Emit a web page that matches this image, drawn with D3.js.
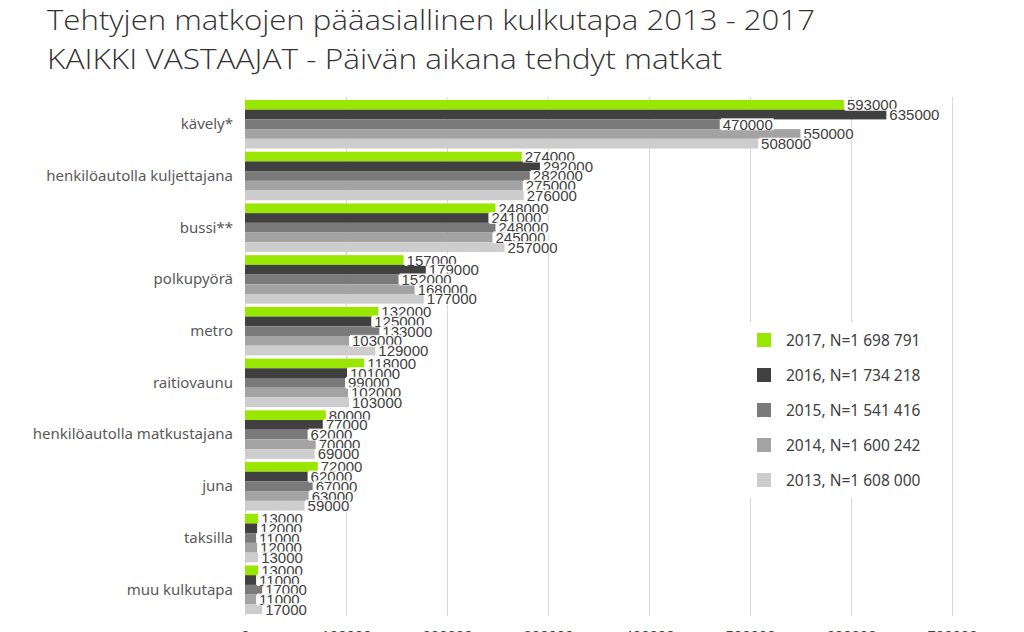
<!DOCTYPE html>
<html>
<head>
<meta charset="utf-8">
<script src="https://cdn.jsdelivr.net/npm/d3@7"></script>
<style>
  body { margin: 0; background: #fff; }
  svg { display: block; }
</style>
</head>
<body>
<svg id="chart" width="1024" height="632"></svg>
<script>
// categories (top to bottom)
const categories = ['kävely*', 'henkilöautolla kuljettajana', 'bussi**', 'polkupyörä', 'metro',
  'raitiovaunu', 'henkilöautolla matkustajana', 'juna', 'taksilla', 'muu kulkutapa']

// series in drawing order inside each group
const years = ['2017', '2016', '2015', '2014', '2013']
const legendLabels = ['2017, N=1 698 791', '2016, N=1 734 218', '2015, N=1 541 416',
  '2014, N=1 600 242', '2013, N=1 608 000']
const seriesColors = ['#99E600', '#404040', '#7A7A7A', '#A3A3A3', '#CDCDCD']

const v2017 = [593000, 274000, 248000, 157000, 132000, 118000, 80000, 72000, 13000, 13000]
const v2016 = [635000, 292000, 241000, 179000, 125000, 101000, 77000, 62000, 12000, 11000]
const v2015 = [470000, 282000, 248000, 152000, 133000, 99000, 62000, 67000, 11000, 17000]
const v2014 = [550000, 275000, 245000, 168000, 103000, 102000, 70000, 63000, 12000, 11000]
const v2013 = [508000, 276000, 257000, 177000, 129000, 103000, 69000, 59000, 13000, 17000]
const seriesValues = [v2017, v2016, v2015, v2014, v2013]

const xTicks = [0, 100000, 200000, 300000, 400000, 500000, 600000, 700000]

const titleLines = ['Tehtyjen matkojen pääasiallinen kulkutapa 2013 - 2017',
  'KAIKKI VASTAAJAT - Päivän aikana tehdyt matkat']

const svg = d3.select('#chart')
const textColor = '#404040'

// Titles
svg.selectAll('text.title')
  .data(titleLines)
  .enter()
  .append('text')
  .attr('class', 'title')
  .attr('x', 47)
  .attr('y', (d, i) => 30 + i * 39)
  .attr('textLength', (d, i) => (i === 0 ? 768 : 675))
  .attr('lengthAdjust', 'spacingAndGlyphs')
  .style('font-family', '"Open Sans", sans-serif')
  .style('font-weight', 300)
  .style('font-size', '28px')
  .style('fill', '#333')
  .text((d) => d)

// Scales
const x = d3.scaleLinear().domain([0, 700000]).range([245, 952])
const y = d3.scaleBand().domain(categories).range([98.4, 615.6])
  .paddingInner(0.062).paddingOuter(0.031)
const ySub = d3.scaleBand().domain(years).range([0, y.bandwidth()])

// Gridlines
svg.append('g')
  .selectAll('line')
  .data(xTicks.slice(1))
  .enter()
  .append('line')
  .attr('x1', (d) => x(d) + 0.5)
  .attr('x2', (d) => x(d) + 0.5)
  .attr('y1', 97)
  .attr('y2', 616)
  .attr('stroke', '#D9D9D9')
  .attr('stroke-width', 1)

// Bottom tick labels (mostly cut off by the frame, as in the original)
const xAxis = svg.append('g')
  .attr('transform', 'translate(0,616)')
  .call(d3.axisBottom(x).tickValues(xTicks).tickSize(0).tickPadding(14).tickFormat(d3.format('d')))
xAxis.select('.domain').remove()
xAxis.selectAll('text')
  .style('font-family', '"Liberation Sans", sans-serif')
  .style('font-size', '15px')
  .attr('fill', textColor)

// Category axis
const yAxis = svg.append('g')
  .attr('transform', 'translate(245,0)')
  .call(d3.axisLeft(y).tickSize(0).tickPadding(12))
yAxis.select('.domain').attr('stroke', '#D9D9D9').attr('d', 'M0.5,97V616')
yAxis.selectAll('text')
  .style('font-family', '"Noto Sans", sans-serif')
  .style('font-size', '15px')
  .attr('fill', '#595959')

// Bars
const groups = svg.append('g')
  .selectAll('g')
  .data(categories)
  .enter()
  .append('g')
  .attr('transform', (d) => `translate(0,${y(d)})`)

groups.selectAll('rect')
  .data((c, ci) => years.map((yr, si) => ({ yr, si, value: seriesValues[si][ci] })))
  .enter()
  .append('rect')
  .attr('x', x(0))
  .attr('y', (d) => ySub(d.yr))
  .attr('width', (d) => x(d.value) - x(0))
  .attr('height', ySub.bandwidth())
  .attr('fill', (d) => seriesColors[d.si])

// Data labels, white box behind each, drawn in order so later ones cover earlier ones
const labels = groups.selectAll('g.lbl')
  .data((c, ci) => years.map((yr, si) => ({ yr, si, value: seriesValues[si][ci] })))
  .enter()
  .append('g')
  .attr('class', 'lbl')
  .attr('transform', (d) => `translate(${x(d.value) + 1},${ySub(d.yr) + ySub.bandwidth() / 2})`)

labels.append('rect')
  .attr('x', 0)
  .attr('y', -6)
  .attr('width', 53)
  .attr('height', 12)
  .attr('fill', '#fff')
  .attr('fill-opacity', 0.85)

labels.append('text')
  .attr('x', 2)
  .attr('y', 5.5)
  .style('font-family', '"Liberation Sans", sans-serif')
  .style('font-size', '15px')
  .attr('fill', textColor)
  .text((d) => d.value)

labels.each(function () {
  const g = d3.select(this)
  const w = g.select('text').node().getComputedTextLength()
  g.select('rect').attr('width', w + 3)
})

// Legend
const legend = svg.append('g').attr('transform', 'translate(745,322)')
legend.append('rect')
  .attr('width', 200)
  .attr('height', 176)
  .attr('fill', '#fff')

const legendItems = legend.selectAll('g.item')
  .data(legendLabels)
  .enter()
  .append('g')
  .attr('class', 'item')
  .attr('transform', (d, i) => `translate(12,${11 + i * 35})`)

legendItems.append('rect')
  .attr('width', 14)
  .attr('height', 14)
  .attr('fill', (d, i) => seriesColors[i])

legendItems.append('text')
  .attr('x', 29)
  .attr('y', 12.5)
  .style('font-family', '"Noto Sans", sans-serif')
  .style('font-size', '15.5px')
  .attr('fill', textColor)
  .text((d) => d)
</script>
</body>
</html>
